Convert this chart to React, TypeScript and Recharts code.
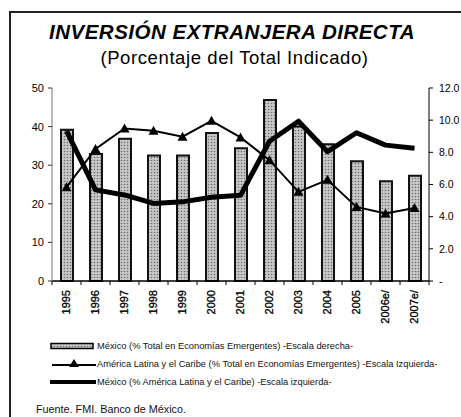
import { Bar, ComposedChart, Line, XAxis, YAxis } from "recharts";

// Inversión extranjera directa — porcentajes, 1995–2007e/

const years = ["1995", "1996", "1997", "1998", "1999", "2000", "2001", "2002", "2003", "2004", "2005", "2006e/", "2007e/"];
// México (% total en economías emergentes) — escala derecha
const mexicoEmergentes = [9.4, 7.9, 8.85, 7.8, 7.8, 9.2, 8.25, 11.25, 9.6, 8.5, 7.45, 6.2, 6.55];
// América Latina y el Caribe (% total en economías emergentes) — escala izquierda
const alcEmergentes = [24.3, 34.2, 39.5, 38.9, 37.4, 41.5, 37.2, 31.3, 23.1, 26.2, 19.2, 17.5, 18.9];
// México (% América Latina y el Caribe) — escala izquierda
const mexicoAlc = [38.9, 23.6, 22.3, 20.1, 20.5, 21.7, 22.2, 36.2, 41.4, 33.5, 38.4, 35.2, 34.4];

const leftTicks = [0, 10, 20, 30, 40, 50];
const rightTicks = [0, 2, 4, 6, 8, 10, 12];

const legendItems = [
  "México (% Total en Economías Emergentes) -Escala derecha-",
  "América Latina y el Caribe (% Total en Economías Emergentes) -Escala Izquierda-",
  "México (% América Latina y el Caribe) -Escala izquierda-",
];

const W = 461;
const H = 345;
const MARGIN = { top: 88, right: 0, left: 12, bottom: 0 };
const LEFT_W = 40;
const RIGHT_W = 32;
const STEP = (W - MARGIN.left - LEFT_W - RIGHT_W - MARGIN.right) / years.length;

const FONT = "'Liberation Sans', Arial, sans-serif";

const data = years.map((y, i) => ({
  year: y,
  mexEm: mexicoEmergentes[i],
  alc: alcEmergentes[i],
  mexAlc: mexicoAlc[i],
}));

function YearTick(props: any) {
  const { x, y, payload, index } = props;
  const isLast = index === years.length - 1;
  return (
    <g>
      <line x1={x - STEP / 2} x2={x - STEP / 2} y1={y} y2={y + 4} stroke="#000" strokeWidth={1} />
      {isLast && <line x1={x + STEP / 2} x2={x + STEP / 2} y1={y} y2={y + 4} stroke="#000" strokeWidth={1} />}
      <text
        x={x}
        y={y + 9}
        transform={`rotate(-90 ${x} ${y + 9})`}
        textAnchor="end"
        dy="0.35em"
        fontSize={11}
        fontFamily={FONT}
        fill="#000"
        stroke="#000"
        strokeWidth={0.3}
      >
        {payload.value}
      </text>
    </g>
  );
}

function TriangleDot(props: any) {
  const { cx, cy, index } = props;
  if (cx == null || cy == null) return <g key={index} />;
  const s = 5;
  return (
    <polygon
      key={index}
      points={`${cx},${cy - s} ${cx - s},${cy + s * 0.8} ${cx + s},${cy + s * 0.8}`}
      fill="#000"
    />
  );
}

function LegendRow({ kind, label, top }: { kind: number; label: string; top: number }) {
  let symbol;
  if (kind === 0) {
    symbol = (
      <svg width={46} height={8} style={{ display: "block" }}>
        <rect x={1} y={1.5} width={42} height={5} fill="url(#dots)" stroke="#000" strokeWidth={1.5} />
      </svg>
    );
  } else if (kind === 1) {
    symbol = (
      <svg width={46} height={10} style={{ display: "block" }}>
        <line x1={2} x2={46} y1={6} y2={6} stroke="#000" strokeWidth={2} />
        <polygon points="24,0 19,8 29,8" fill="#000" />
      </svg>
    );
  } else {
    symbol = (
      <svg width={46} height={8} style={{ display: "block" }}>
        <line x1={0} x2={46} y1={4} y2={4} stroke="#000" strokeWidth={4} />
      </svg>
    );
  }
  return (
    <div
      style={{
        position: "absolute",
        left: 50,
        top: top - 6,
        height: 12,
        display: "flex",
        alignItems: "center",
        fontFamily: FONT,
        fontSize: 9.3,
        color: "#111",
        whiteSpace: "nowrap",
      }}
    >
      {symbol}
      <span style={{ marginLeft: 1 }}>{label}</span>
    </div>
  );
}

export default function App() {
  return (
    <div style={{ position: "absolute", left: 0, top: 0, width: W, height: 417, background: "#fff", overflow: "hidden" }}>
      <svg width={0} height={0} style={{ position: "absolute" }}>
        <defs>
          <pattern id="dots" width={3} height={3} patternUnits="userSpaceOnUse">
            <rect width={3} height={3} fill="#c8c8c8" />
            <circle cx={1.5} cy={1.5} r={0.8} fill="#6e6e6e" />
          </pattern>
        </defs>
      </svg>
      <div style={{ position: "absolute", left: 9, top: 11, width: 500, height: 500, borderLeft: "2px solid #222", borderTop: "2px solid #222" }} />
      <div
        style={{
          position: "absolute",
          left: 0,
          width: 464,
          top: 20,
          textAlign: "center",
          fontFamily: FONT,
          fontWeight: "bold",
          fontStyle: "italic",
          fontSize: 20.5,
          letterSpacing: 0.5,
          color: "#000",
        }}
      >
        INVERSIÓN EXTRANJERA DIRECTA
      </div>
      <div
        style={{
          position: "absolute",
          left: 0,
          width: 469,
          top: 47,
          textAlign: "center",
          fontFamily: FONT,
          fontSize: 18.5,
          letterSpacing: 0.6,
          color: "#000",
        }}
      >
        (Porcentaje del Total Indicado)
      </div>
      <div style={{ position: "absolute", left: 0, top: 0 }}>
        <ComposedChart width={W} height={H} data={data} margin={MARGIN}>
          <XAxis
            dataKey="year"
            interval={0}
            height={H - 281 - MARGIN.bottom}
            tickLine={false}
            tickSize={0}
            tickMargin={0}
            axisLine={{ stroke: "#000", strokeWidth: 1.5 }}
            tick={<YearTick />}
          />
          <YAxis
            yAxisId="left"
            orientation="left"
            width={LEFT_W}
            domain={[0, 50]}
            ticks={leftTicks}
            interval={0}
            tickSize={4}
            tickMargin={4}
            axisLine={{ stroke: "#777" }}
            tickLine={{ stroke: "#333" }}
            tick={{ fontSize: 11, fontFamily: FONT, fill: "#000" }}
          />
          <YAxis
            yAxisId="right"
            orientation="right"
            width={RIGHT_W}
            domain={[0, 12]}
            ticks={rightTicks}
            interval={0}
            tickSize={4}
            tickMargin={6}
            tickFormatter={(v: number) => (v === 0 ? "-" : v.toFixed(1))}
            axisLine={{ stroke: "#000" }}
            tickLine={{ stroke: "#000" }}
            tick={{ fontSize: 10.5, fontFamily: FONT, fill: "#000", textAnchor: "start" }}
          />
          <Bar
            yAxisId="right"
            dataKey="mexEm"
            barSize={12}
            fill="url(#dots)"
            stroke="#111"
            strokeWidth={2}
            isAnimationActive={false}
          />
          <Line
            yAxisId="left"
            type="linear"
            dataKey="alc"
            stroke="#000"
            strokeWidth={2}
            dot={<TriangleDot />}
            activeDot={false}
            isAnimationActive={false}
          />
          <Line
            yAxisId="left"
            type="linear"
            dataKey="mexAlc"
            stroke="#000"
            strokeWidth={5}
            strokeLinejoin="round"
            dot={false}
            activeDot={false}
            isAnimationActive={false}
          />
        </ComposedChart>
      </div>
      {legendItems.map((label, i) => (
        <LegendRow key={label} kind={i} label={label} top={[346, 364, 382][i]} />
      ))}
      <div style={{ position: "absolute", left: 36, top: 403, fontFamily: FONT, fontSize: 10.8, color: "#111", whiteSpace: "nowrap" }}>
        Fuente. FMI. Banco de México.
      </div>
    </div>
  );
}
